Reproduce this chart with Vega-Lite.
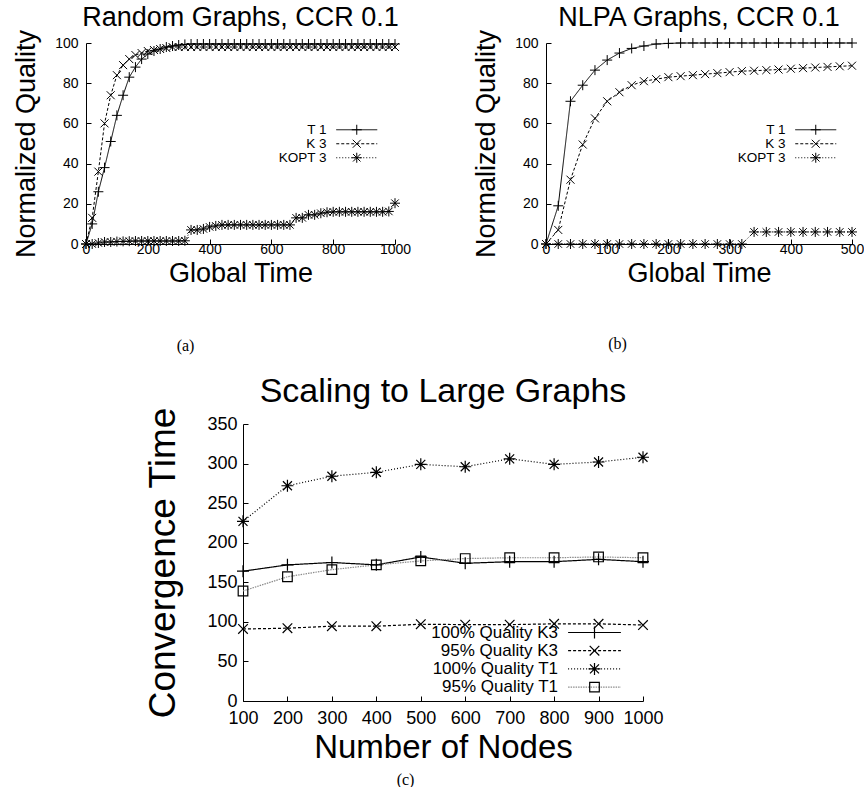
{
  "$schema": "https://vega.github.io/schema/vega-lite/v6.json",
  "padding": {"left": 12, "top": 4, "right": 0, "bottom": 0},
  "background": "white",
  "config": {
    "font": "Liberation Sans",
    "view": {"stroke": null},
    "axis": {"grid": false, "domainColor": "black", "tickColor": "black", "labelColor": "black", "titleColor": "black", "titleFontWeight": "normal", "labelFont": "Liberation Sans", "titleFont": "Liberation Sans", "tickSize": -5, "domainWidth": 1, "tickWidth": 1, "labelOverlap": false, "labelFlush": false},
    "legend": {"labelColor": "black", "labelFont": "Liberation Sans"}
  },
  "resolve": {"scale": {"color": "independent", "shape": "independent", "strokeDash": "independent"}, "legend": {"color": "independent", "shape": "independent", "strokeDash": "independent"}},
  "datasets": {
    "a": [
      {"time": 0, "quality": 0, "series": "T 1"},
      {"time": 20, "quality": 10, "series": "T 1"},
      {"time": 40, "quality": 26, "series": "T 1"},
      {"time": 60, "quality": 38, "series": "T 1"},
      {"time": 80, "quality": 51, "series": "T 1"},
      {"time": 100, "quality": 64, "series": "T 1"},
      {"time": 120, "quality": 74, "series": "T 1"},
      {"time": 140, "quality": 83, "series": "T 1"},
      {"time": 160, "quality": 88, "series": "T 1"},
      {"time": 180, "quality": 92, "series": "T 1"},
      {"time": 200, "quality": 94.5, "series": "T 1"},
      {"time": 220, "quality": 96, "series": "T 1"},
      {"time": 240, "quality": 97, "series": "T 1"},
      {"time": 260, "quality": 98, "series": "T 1"},
      {"time": 280, "quality": 98.5, "series": "T 1"},
      {"time": 300, "quality": 99, "series": "T 1"},
      {"time": 320, "quality": 99.3, "series": "T 1"},
      {"time": 340, "quality": 99.5, "series": "T 1"},
      {"time": 360, "quality": 99.5, "series": "T 1"},
      {"time": 380, "quality": 99.5, "series": "T 1"},
      {"time": 400, "quality": 99.5, "series": "T 1"},
      {"time": 420, "quality": 99.5, "series": "T 1"},
      {"time": 440, "quality": 99.5, "series": "T 1"},
      {"time": 460, "quality": 99.5, "series": "T 1"},
      {"time": 480, "quality": 99.5, "series": "T 1"},
      {"time": 500, "quality": 99.5, "series": "T 1"},
      {"time": 520, "quality": 99.5, "series": "T 1"},
      {"time": 540, "quality": 99.5, "series": "T 1"},
      {"time": 560, "quality": 99.5, "series": "T 1"},
      {"time": 580, "quality": 99.5, "series": "T 1"},
      {"time": 600, "quality": 99.5, "series": "T 1"},
      {"time": 620, "quality": 99.5, "series": "T 1"},
      {"time": 640, "quality": 99.5, "series": "T 1"},
      {"time": 660, "quality": 99.5, "series": "T 1"},
      {"time": 680, "quality": 99.5, "series": "T 1"},
      {"time": 700, "quality": 99.5, "series": "T 1"},
      {"time": 720, "quality": 99.5, "series": "T 1"},
      {"time": 740, "quality": 99.5, "series": "T 1"},
      {"time": 760, "quality": 99.5, "series": "T 1"},
      {"time": 780, "quality": 99.5, "series": "T 1"},
      {"time": 800, "quality": 99.5, "series": "T 1"},
      {"time": 820, "quality": 99.5, "series": "T 1"},
      {"time": 840, "quality": 99.5, "series": "T 1"},
      {"time": 860, "quality": 99.5, "series": "T 1"},
      {"time": 880, "quality": 99.5, "series": "T 1"},
      {"time": 900, "quality": 99.5, "series": "T 1"},
      {"time": 920, "quality": 99.5, "series": "T 1"},
      {"time": 940, "quality": 99.5, "series": "T 1"},
      {"time": 960, "quality": 99.5, "series": "T 1"},
      {"time": 980, "quality": 99.5, "series": "T 1"},
      {"time": 1000, "quality": 99.5, "series": "T 1"},
      {"time": 0, "quality": 0, "series": "K 3"},
      {"time": 20, "quality": 13, "series": "K 3"},
      {"time": 40, "quality": 36, "series": "K 3"},
      {"time": 60, "quality": 60, "series": "K 3"},
      {"time": 80, "quality": 74, "series": "K 3"},
      {"time": 100, "quality": 84, "series": "K 3"},
      {"time": 120, "quality": 89, "series": "K 3"},
      {"time": 140, "quality": 92, "series": "K 3"},
      {"time": 160, "quality": 94, "series": "K 3"},
      {"time": 180, "quality": 95, "series": "K 3"},
      {"time": 200, "quality": 96, "series": "K 3"},
      {"time": 220, "quality": 96.5, "series": "K 3"},
      {"time": 240, "quality": 97, "series": "K 3"},
      {"time": 260, "quality": 97.5, "series": "K 3"},
      {"time": 280, "quality": 98, "series": "K 3"},
      {"time": 300, "quality": 98, "series": "K 3"},
      {"time": 320, "quality": 98, "series": "K 3"},
      {"time": 340, "quality": 98, "series": "K 3"},
      {"time": 360, "quality": 98, "series": "K 3"},
      {"time": 380, "quality": 98, "series": "K 3"},
      {"time": 400, "quality": 98, "series": "K 3"},
      {"time": 420, "quality": 98, "series": "K 3"},
      {"time": 440, "quality": 98, "series": "K 3"},
      {"time": 460, "quality": 98, "series": "K 3"},
      {"time": 480, "quality": 98, "series": "K 3"},
      {"time": 500, "quality": 98, "series": "K 3"},
      {"time": 520, "quality": 98, "series": "K 3"},
      {"time": 540, "quality": 98, "series": "K 3"},
      {"time": 560, "quality": 98, "series": "K 3"},
      {"time": 580, "quality": 98, "series": "K 3"},
      {"time": 600, "quality": 98, "series": "K 3"},
      {"time": 620, "quality": 98, "series": "K 3"},
      {"time": 640, "quality": 98, "series": "K 3"},
      {"time": 660, "quality": 98, "series": "K 3"},
      {"time": 680, "quality": 98, "series": "K 3"},
      {"time": 700, "quality": 98, "series": "K 3"},
      {"time": 720, "quality": 98, "series": "K 3"},
      {"time": 740, "quality": 98, "series": "K 3"},
      {"time": 760, "quality": 98, "series": "K 3"},
      {"time": 780, "quality": 98, "series": "K 3"},
      {"time": 800, "quality": 98, "series": "K 3"},
      {"time": 820, "quality": 98, "series": "K 3"},
      {"time": 840, "quality": 98, "series": "K 3"},
      {"time": 860, "quality": 98, "series": "K 3"},
      {"time": 880, "quality": 98, "series": "K 3"},
      {"time": 900, "quality": 98, "series": "K 3"},
      {"time": 920, "quality": 98, "series": "K 3"},
      {"time": 940, "quality": 98, "series": "K 3"},
      {"time": 960, "quality": 98, "series": "K 3"},
      {"time": 980, "quality": 98, "series": "K 3"},
      {"time": 1000, "quality": 98, "series": "K 3"},
      {"time": 0, "quality": 0, "series": "KOPT 3"},
      {"time": 20, "quality": 0, "series": "KOPT 3"},
      {"time": 40, "quality": 0.5, "series": "KOPT 3"},
      {"time": 60, "quality": 1, "series": "KOPT 3"},
      {"time": 80, "quality": 1, "series": "KOPT 3"},
      {"time": 100, "quality": 1.2, "series": "KOPT 3"},
      {"time": 120, "quality": 1.3, "series": "KOPT 3"},
      {"time": 140, "quality": 1.4, "series": "KOPT 3"},
      {"time": 160, "quality": 1.5, "series": "KOPT 3"},
      {"time": 180, "quality": 1.5, "series": "KOPT 3"},
      {"time": 200, "quality": 1.5, "series": "KOPT 3"},
      {"time": 220, "quality": 1.5, "series": "KOPT 3"},
      {"time": 240, "quality": 1.5, "series": "KOPT 3"},
      {"time": 260, "quality": 1.5, "series": "KOPT 3"},
      {"time": 280, "quality": 1.5, "series": "KOPT 3"},
      {"time": 300, "quality": 1.5, "series": "KOPT 3"},
      {"time": 320, "quality": 1.6, "series": "KOPT 3"},
      {"time": 340, "quality": 7, "series": "KOPT 3"},
      {"time": 360, "quality": 7, "series": "KOPT 3"},
      {"time": 380, "quality": 7.5, "series": "KOPT 3"},
      {"time": 400, "quality": 8.5, "series": "KOPT 3"},
      {"time": 420, "quality": 9, "series": "KOPT 3"},
      {"time": 440, "quality": 9.5, "series": "KOPT 3"},
      {"time": 460, "quality": 9.5, "series": "KOPT 3"},
      {"time": 480, "quality": 9.5, "series": "KOPT 3"},
      {"time": 500, "quality": 9.5, "series": "KOPT 3"},
      {"time": 520, "quality": 9.5, "series": "KOPT 3"},
      {"time": 540, "quality": 9.5, "series": "KOPT 3"},
      {"time": 560, "quality": 9.5, "series": "KOPT 3"},
      {"time": 580, "quality": 9.5, "series": "KOPT 3"},
      {"time": 600, "quality": 9.5, "series": "KOPT 3"},
      {"time": 620, "quality": 9.5, "series": "KOPT 3"},
      {"time": 640, "quality": 9.5, "series": "KOPT 3"},
      {"time": 660, "quality": 9.5, "series": "KOPT 3"},
      {"time": 680, "quality": 13, "series": "KOPT 3"},
      {"time": 700, "quality": 13, "series": "KOPT 3"},
      {"time": 720, "quality": 14.5, "series": "KOPT 3"},
      {"time": 740, "quality": 14.5, "series": "KOPT 3"},
      {"time": 760, "quality": 15.3, "series": "KOPT 3"},
      {"time": 780, "quality": 15.8, "series": "KOPT 3"},
      {"time": 800, "quality": 16, "series": "KOPT 3"},
      {"time": 820, "quality": 16, "series": "KOPT 3"},
      {"time": 840, "quality": 16, "series": "KOPT 3"},
      {"time": 860, "quality": 16, "series": "KOPT 3"},
      {"time": 880, "quality": 16, "series": "KOPT 3"},
      {"time": 900, "quality": 16, "series": "KOPT 3"},
      {"time": 920, "quality": 16, "series": "KOPT 3"},
      {"time": 940, "quality": 16, "series": "KOPT 3"},
      {"time": 960, "quality": 16, "series": "KOPT 3"},
      {"time": 980, "quality": 16.2, "series": "KOPT 3"},
      {"time": 1000, "quality": 20.3, "series": "KOPT 3"}
    ],
    "b": [
      {"time": 0, "quality": 0, "series": "T 1"},
      {"time": 20, "quality": 19, "series": "T 1"},
      {"time": 40, "quality": 71, "series": "T 1"},
      {"time": 60, "quality": 79, "series": "T 1"},
      {"time": 80, "quality": 86.5, "series": "T 1"},
      {"time": 100, "quality": 91.5, "series": "T 1"},
      {"time": 120, "quality": 95, "series": "T 1"},
      {"time": 140, "quality": 97.3, "series": "T 1"},
      {"time": 160, "quality": 98.5, "series": "T 1"},
      {"time": 180, "quality": 99.5, "series": "T 1"},
      {"time": 200, "quality": 99.8, "series": "T 1"},
      {"time": 220, "quality": 100, "series": "T 1"},
      {"time": 240, "quality": 100, "series": "T 1"},
      {"time": 260, "quality": 100, "series": "T 1"},
      {"time": 280, "quality": 100, "series": "T 1"},
      {"time": 300, "quality": 100, "series": "T 1"},
      {"time": 320, "quality": 100, "series": "T 1"},
      {"time": 340, "quality": 100, "series": "T 1"},
      {"time": 360, "quality": 100, "series": "T 1"},
      {"time": 380, "quality": 100, "series": "T 1"},
      {"time": 400, "quality": 100, "series": "T 1"},
      {"time": 420, "quality": 100, "series": "T 1"},
      {"time": 440, "quality": 100, "series": "T 1"},
      {"time": 460, "quality": 100, "series": "T 1"},
      {"time": 480, "quality": 100, "series": "T 1"},
      {"time": 500, "quality": 100, "series": "T 1"},
      {"time": 0, "quality": 0, "series": "K 3"},
      {"time": 20, "quality": 7, "series": "K 3"},
      {"time": 40, "quality": 32, "series": "K 3"},
      {"time": 60, "quality": 49.5, "series": "K 3"},
      {"time": 80, "quality": 62.5, "series": "K 3"},
      {"time": 100, "quality": 71, "series": "K 3"},
      {"time": 120, "quality": 75.5, "series": "K 3"},
      {"time": 140, "quality": 79, "series": "K 3"},
      {"time": 160, "quality": 81, "series": "K 3"},
      {"time": 180, "quality": 82, "series": "K 3"},
      {"time": 200, "quality": 83, "series": "K 3"},
      {"time": 220, "quality": 83.5, "series": "K 3"},
      {"time": 240, "quality": 84, "series": "K 3"},
      {"time": 260, "quality": 84.5, "series": "K 3"},
      {"time": 280, "quality": 85, "series": "K 3"},
      {"time": 300, "quality": 85.5, "series": "K 3"},
      {"time": 320, "quality": 86, "series": "K 3"},
      {"time": 340, "quality": 86.2, "series": "K 3"},
      {"time": 360, "quality": 86.5, "series": "K 3"},
      {"time": 380, "quality": 86.8, "series": "K 3"},
      {"time": 400, "quality": 87.2, "series": "K 3"},
      {"time": 420, "quality": 87.5, "series": "K 3"},
      {"time": 440, "quality": 87.8, "series": "K 3"},
      {"time": 460, "quality": 88.1, "series": "K 3"},
      {"time": 480, "quality": 88.4, "series": "K 3"},
      {"time": 500, "quality": 88.7, "series": "K 3"},
      {"time": 0, "quality": 0, "series": "KOPT 3"},
      {"time": 20, "quality": 0, "series": "KOPT 3"},
      {"time": 40, "quality": 0, "series": "KOPT 3"},
      {"time": 60, "quality": 0, "series": "KOPT 3"},
      {"time": 80, "quality": 0, "series": "KOPT 3"},
      {"time": 100, "quality": 0, "series": "KOPT 3"},
      {"time": 120, "quality": 0, "series": "KOPT 3"},
      {"time": 140, "quality": 0, "series": "KOPT 3"},
      {"time": 160, "quality": 0, "series": "KOPT 3"},
      {"time": 180, "quality": 0, "series": "KOPT 3"},
      {"time": 200, "quality": 0, "series": "KOPT 3"},
      {"time": 220, "quality": 0, "series": "KOPT 3"},
      {"time": 240, "quality": 0, "series": "KOPT 3"},
      {"time": 260, "quality": 0, "series": "KOPT 3"},
      {"time": 280, "quality": 0, "series": "KOPT 3"},
      {"time": 300, "quality": 0, "series": "KOPT 3"},
      {"time": 320, "quality": 0, "series": "KOPT 3"},
      {"time": 340, "quality": 6, "series": "KOPT 3"},
      {"time": 360, "quality": 6, "series": "KOPT 3"},
      {"time": 380, "quality": 6, "series": "KOPT 3"},
      {"time": 400, "quality": 6, "series": "KOPT 3"},
      {"time": 420, "quality": 6, "series": "KOPT 3"},
      {"time": 440, "quality": 6, "series": "KOPT 3"},
      {"time": 460, "quality": 6, "series": "KOPT 3"},
      {"time": 480, "quality": 6, "series": "KOPT 3"},
      {"time": 500, "quality": 6, "series": "KOPT 3"}
    ],
    "c": [
      {"nodes": 100, "conv_time": 164, "series": "100% Quality K3"},
      {"nodes": 200, "conv_time": 172, "series": "100% Quality K3"},
      {"nodes": 300, "conv_time": 175, "series": "100% Quality K3"},
      {"nodes": 400, "conv_time": 172, "series": "100% Quality K3"},
      {"nodes": 500, "conv_time": 182, "series": "100% Quality K3"},
      {"nodes": 600, "conv_time": 174, "series": "100% Quality K3"},
      {"nodes": 700, "conv_time": 176, "series": "100% Quality K3"},
      {"nodes": 800, "conv_time": 176, "series": "100% Quality K3"},
      {"nodes": 900, "conv_time": 179, "series": "100% Quality K3"},
      {"nodes": 1000, "conv_time": 176, "series": "100% Quality K3"},
      {"nodes": 100, "conv_time": 91, "series": "95% Quality K3"},
      {"nodes": 200, "conv_time": 92, "series": "95% Quality K3"},
      {"nodes": 300, "conv_time": 94.5, "series": "95% Quality K3"},
      {"nodes": 400, "conv_time": 94.5, "series": "95% Quality K3"},
      {"nodes": 500, "conv_time": 97, "series": "95% Quality K3"},
      {"nodes": 600, "conv_time": 96.5, "series": "95% Quality K3"},
      {"nodes": 700, "conv_time": 96.5, "series": "95% Quality K3"},
      {"nodes": 800, "conv_time": 97.5, "series": "95% Quality K3"},
      {"nodes": 900, "conv_time": 97.5, "series": "95% Quality K3"},
      {"nodes": 1000, "conv_time": 96, "series": "95% Quality K3"},
      {"nodes": 100, "conv_time": 227, "series": "100% Quality T1"},
      {"nodes": 200, "conv_time": 272, "series": "100% Quality T1"},
      {"nodes": 300, "conv_time": 284, "series": "100% Quality T1"},
      {"nodes": 400, "conv_time": 289, "series": "100% Quality T1"},
      {"nodes": 500, "conv_time": 299, "series": "100% Quality T1"},
      {"nodes": 600, "conv_time": 296, "series": "100% Quality T1"},
      {"nodes": 700, "conv_time": 306, "series": "100% Quality T1"},
      {"nodes": 800, "conv_time": 299, "series": "100% Quality T1"},
      {"nodes": 900, "conv_time": 302, "series": "100% Quality T1"},
      {"nodes": 1000, "conv_time": 308, "series": "100% Quality T1"},
      {"nodes": 100, "conv_time": 139, "series": "95% Quality T1"},
      {"nodes": 200, "conv_time": 157, "series": "95% Quality T1"},
      {"nodes": 300, "conv_time": 166, "series": "95% Quality T1"},
      {"nodes": 400, "conv_time": 172, "series": "95% Quality T1"},
      {"nodes": 500, "conv_time": 177, "series": "95% Quality T1"},
      {"nodes": 600, "conv_time": 180, "series": "95% Quality T1"},
      {"nodes": 700, "conv_time": 181, "series": "95% Quality T1"},
      {"nodes": 800, "conv_time": 181, "series": "95% Quality T1"},
      {"nodes": 900, "conv_time": 182, "series": "95% Quality T1"},
      {"nodes": 1000, "conv_time": 181, "series": "95% Quality T1"}
    ]
  },
  "spacing": 21,
  "vconcat": [
    {
      "spacing": 61,
      "resolve": {"scale": {"color": "independent", "shape": "independent", "strokeDash": "independent"}, "legend": {"color": "independent", "shape": "independent", "strokeDash": "independent"}},
      "hconcat": [
        {
          "width": 309,
          "height": 201,
          "data": {"name": "a"},
          "title": {"text": "Random Graphs, CCR 0.1", "fontSize": 27, "fontWeight": "normal", "color": "black", "anchor": "middle", "frame": "group", "baseline": "alphabetic", "offset": -24},
          "resolve": {"axis": {"x": "independent"}},
          "layer": [
            {
              "mark": {"type": "line", "strokeWidth": 1, "color": "black"},
              "encoding": {
                "x": {"field": "time", "type": "quantitative", "scale": {"domain": [0, 1000], "nice": false},
                  "axis": {"values": [0, 200, 400, 600, 800, 1000], "format": "d", "labelOverlap": false, "labelFontSize": 14, "labelPadding": 3, "title": "Global Time", "titleFontSize": 27, "titlePadding": 4}},
                "y": {"field": "quality", "type": "quantitative", "scale": {"domain": [0, 100], "nice": false},
                  "axis": {"values": [0, 20, 40, 60, 80, 100], "format": "d", "labelOverlap": false, "labelFontSize": 14, "labelPadding": 13, "title": "Normalized Quality", "titleFontSize": 27, "titlePadding": 14}},
                "strokeDash": {"field": "series", "type": "nominal", "sort": ["T 1", "K 3", "KOPT 3"], "scale": {"range": [[1, 0], [3, 2], [1, 2]]},
                  "legend": {"orient": "none", "legendX": 264, "legendY": 80, "title": null, "symbolType": "M-4.1,0H4.1", "symbolSize": 100, "symbolStrokeWidth": 1, "symbolStrokeColor": "black", "labelFontSize": 13.5, "labelAlign": "right", "labelOffset": -37, "rowPadding": -1.5, "padding": 0}}
              }
            },
            {
              "mark": {"type": "point", "filled": false, "color": "black", "strokeWidth": 1, "size": 100, "opacity": 1},
              "encoding": {
                "x": {"field": "time", "type": "quantitative",
                  "axis": {"orient": "bottom", "domain": false, "ticks": false, "labels": false, "title": "(a)", "titleFont": "Liberation Serif", "titleFontSize": 16, "titlePadding": 93, "titleX": 99, "titleAlign": "center"}},
                "y": {"field": "quality", "type": "quantitative",
                  "axis": {"values": [0, 20, 40, 60, 80, 100], "format": "d", "labelOverlap": false, "labelFontSize": 14, "labelPadding": 13, "title": "Normalized Quality", "titleFontSize": 27, "titlePadding": 14}},
                "shape": {"field": "series", "type": "nominal", "scale": {"domain": ["T 1", "K 3", "KOPT 3"], "range": ["M-1,0H1M0,-1V1", "M-0.8,-0.8L0.8,0.8M-0.8,0.8L0.8,-0.8", "M-1,0H1M0,-1V1M-0.75,-0.75L0.75,0.75M-0.75,0.75L0.75,-0.75"]},
                  "legend": {"orient": "none", "legendX": 264, "legendY": 80, "title": null, "symbolSize": 100, "symbolStrokeWidth": 1, "symbolStrokeColor": "black", "labelFontSize": 13.5, "labelOpacity": 0, "labelAlign": "right", "labelOffset": -37, "rowPadding": -1.5, "padding": 0}}
              }
            }
          ]
        },
        {
          "width": 306,
          "height": 201,
          "data": {"name": "b"},
          "title": {"text": "NLPA Graphs, CCR 0.1", "fontSize": 27, "fontWeight": "normal", "color": "black", "anchor": "middle", "frame": "group", "baseline": "alphabetic", "offset": -24},
          "resolve": {"axis": {"x": "independent"}},
          "layer": [
            {
              "mark": {"type": "line", "strokeWidth": 1, "color": "black"},
              "encoding": {
                "x": {"field": "time", "type": "quantitative", "scale": {"domain": [0, 500], "nice": false},
                  "axis": {"values": [0, 100, 200, 300, 400, 500], "format": "d", "labelOverlap": false, "labelFontSize": 14, "labelPadding": 3, "title": "Global Time", "titleFontSize": 27, "titlePadding": 4}},
                "y": {"field": "quality", "type": "quantitative", "scale": {"domain": [0, 100], "nice": false},
                  "axis": {"values": [0, 20, 40, 60, 80, 100], "format": "d", "labelOverlap": false, "labelFontSize": 14, "labelPadding": 13, "title": "Normalized Quality", "titleFontSize": 27, "titlePadding": 14}},
                "strokeDash": {"field": "series", "type": "nominal", "sort": ["T 1", "K 3", "KOPT 3"], "scale": {"range": [[1, 0], [3, 2], [1, 2]]},
                  "legend": {"orient": "none", "legendX": 263, "legendY": 80, "title": null, "symbolType": "M-4.1,0H4.1", "symbolSize": 100, "symbolStrokeWidth": 1, "symbolStrokeColor": "black", "labelFontSize": 13.5, "labelAlign": "right", "labelOffset": -37, "rowPadding": -1.5, "padding": 0}}
              }
            },
            {
              "mark": {"type": "point", "filled": false, "color": "black", "strokeWidth": 1, "size": 100, "opacity": 1},
              "encoding": {
                "x": {"field": "time", "type": "quantitative",
                  "axis": {"orient": "bottom", "domain": false, "ticks": false, "labels": false, "title": "(b)", "titleFont": "Liberation Serif", "titleFontSize": 16, "titlePadding": 91, "titleX": 71, "titleAlign": "center"}},
                "y": {"field": "quality", "type": "quantitative",
                  "axis": {"values": [0, 20, 40, 60, 80, 100], "format": "d", "labelOverlap": false, "labelFontSize": 14, "labelPadding": 13, "title": "Normalized Quality", "titleFontSize": 27, "titlePadding": 14}},
                "shape": {"field": "series", "type": "nominal", "scale": {"domain": ["T 1", "K 3", "KOPT 3"], "range": ["M-1,0H1M0,-1V1", "M-0.8,-0.8L0.8,0.8M-0.8,0.8L0.8,-0.8", "M-1,0H1M0,-1V1M-0.75,-0.75L0.75,0.75M-0.75,0.75L0.75,-0.75"]},
                  "legend": {"orient": "none", "legendX": 263, "legendY": 80, "title": null, "symbolSize": 100, "symbolStrokeWidth": 1, "symbolStrokeColor": "black", "labelFontSize": 13.5, "labelOpacity": 0, "labelAlign": "right", "labelOffset": -37, "rowPadding": -1.5, "padding": 0}}
              }
            }
          ]
        }
      ]
    },
    {
      "spacing": 0,
      "resolve": {"scale": {"color": "independent", "shape": "independent", "strokeDash": "independent"}, "legend": {"color": "independent", "shape": "independent", "strokeDash": "independent"}},
      "hconcat": [
        {
          "width": 58,
          "height": 277,
          "data": {"values": []},
          "mark": {"type": "point", "opacity": 0},
          "encoding": {}
        },
        {
          "width": 400,
          "height": 277,
          "data": {"name": "c"},
          "title": {"text": "Scaling to Large Graphs", "fontSize": 34, "fontWeight": "normal", "color": "black", "anchor": "middle", "frame": "group", "baseline": "alphabetic", "offset": -29},
          "resolve": {"axis": {"x": "independent"}},
          "layer": [
            {
              "mark": {"type": "line", "strokeWidth": 1.2},
              "encoding": {
                "x": {"field": "nodes", "type": "quantitative", "scale": {"domain": [100, 1000], "nice": false, "zero": false},
                  "axis": {"values": [100, 200, 300, 400, 500, 600, 700, 800, 900, 1000], "format": "d", "labelOverlap": false, "labelFontSize": 18, "labelPadding": 13, "title": "Number of Nodes", "titleFontSize": 33, "titlePadding": 4}},
                "y": {"field": "conv_time", "type": "quantitative", "scale": {"domain": [0, 350], "nice": false},
                  "axis": {"values": [0, 50, 100, 150, 200, 250, 300, 350], "format": "d", "labelOverlap": false, "labelFontSize": 18, "labelPadding": 11, "title": "Convergence Time", "titleFontSize": 37, "titlePadding": 24}},
                "color": {"field": "series", "type": "nominal", "scale": {"domain": ["100% Quality K3", "95% Quality K3", "100% Quality T1", "95% Quality T1"], "range": ["black", "black", "black", "#8c8c8c"]},
                  "legend": {"orient": "none", "legendX": 343, "legendY": 200, "title": null, "symbolType": "M-4.4,0H4.4", "symbolSize": 144, "symbolStrokeWidth": 1.2, "labelFontSize": 17, "labelAlign": "right", "labelOffset": -45, "rowPadding": 0.2, "padding": 0}},
                "strokeDash": {"field": "series", "type": "nominal", "scale": {"domain": ["100% Quality K3", "95% Quality K3", "100% Quality T1", "95% Quality T1"], "range": [[1, 0], [3, 2], [1, 2], [1.5, 1]]},
                  "legend": {"orient": "none", "legendX": 343, "legendY": 200, "title": null, "symbolType": "M-4.4,0H4.4", "symbolSize": 144, "symbolStrokeWidth": 1.2, "labelFontSize": 17, "labelAlign": "right", "labelOffset": -45, "rowPadding": 0.2, "padding": 0}}
              }
            },
            {
              "mark": {"type": "point", "filled": false, "color": "black", "strokeWidth": 1.2, "size": 144, "opacity": 1},
              "encoding": {
                "x": {"field": "nodes", "type": "quantitative",
                  "axis": {"orient": "bottom", "domain": false, "ticks": false, "labels": false, "title": "(c)", "titleFont": "Liberation Serif", "titleFontSize": 16, "titlePadding": 70, "titleX": 162, "titleAlign": "center"}},
                "y": {"field": "conv_time", "type": "quantitative",
                  "axis": {"values": [0, 50, 100, 150, 200, 250, 300, 350], "format": "d", "labelOverlap": false, "labelFontSize": 18, "labelPadding": 11, "title": "Convergence Time", "titleFontSize": 37, "titlePadding": 24}},
                "shape": {"field": "series", "type": "nominal", "sort": ["100% Quality K3", "95% Quality K3", "100% Quality T1", "95% Quality T1"], "scale": {"range": ["M-1,0H1M0,-1V1", "M-0.8,-0.8L0.8,0.8M-0.8,0.8L0.8,-0.8", "M-1,0H1M0,-1V1M-0.75,-0.75L0.75,0.75M-0.75,0.75L0.75,-0.75", "M-0.8,-0.8H0.8V0.8H-0.8Z"]},
                  "legend": {"orient": "none", "legendX": 343, "legendY": 200, "title": null, "symbolSize": 144, "symbolStrokeWidth": 1.2, "symbolStrokeColor": "black", "labelFontSize": 17, "labelOpacity": 0, "labelAlign": "right", "labelOffset": -45, "rowPadding": 0.2, "padding": 0}}
              }
            }
          ]
        }
      ]
    }
  ]
}
